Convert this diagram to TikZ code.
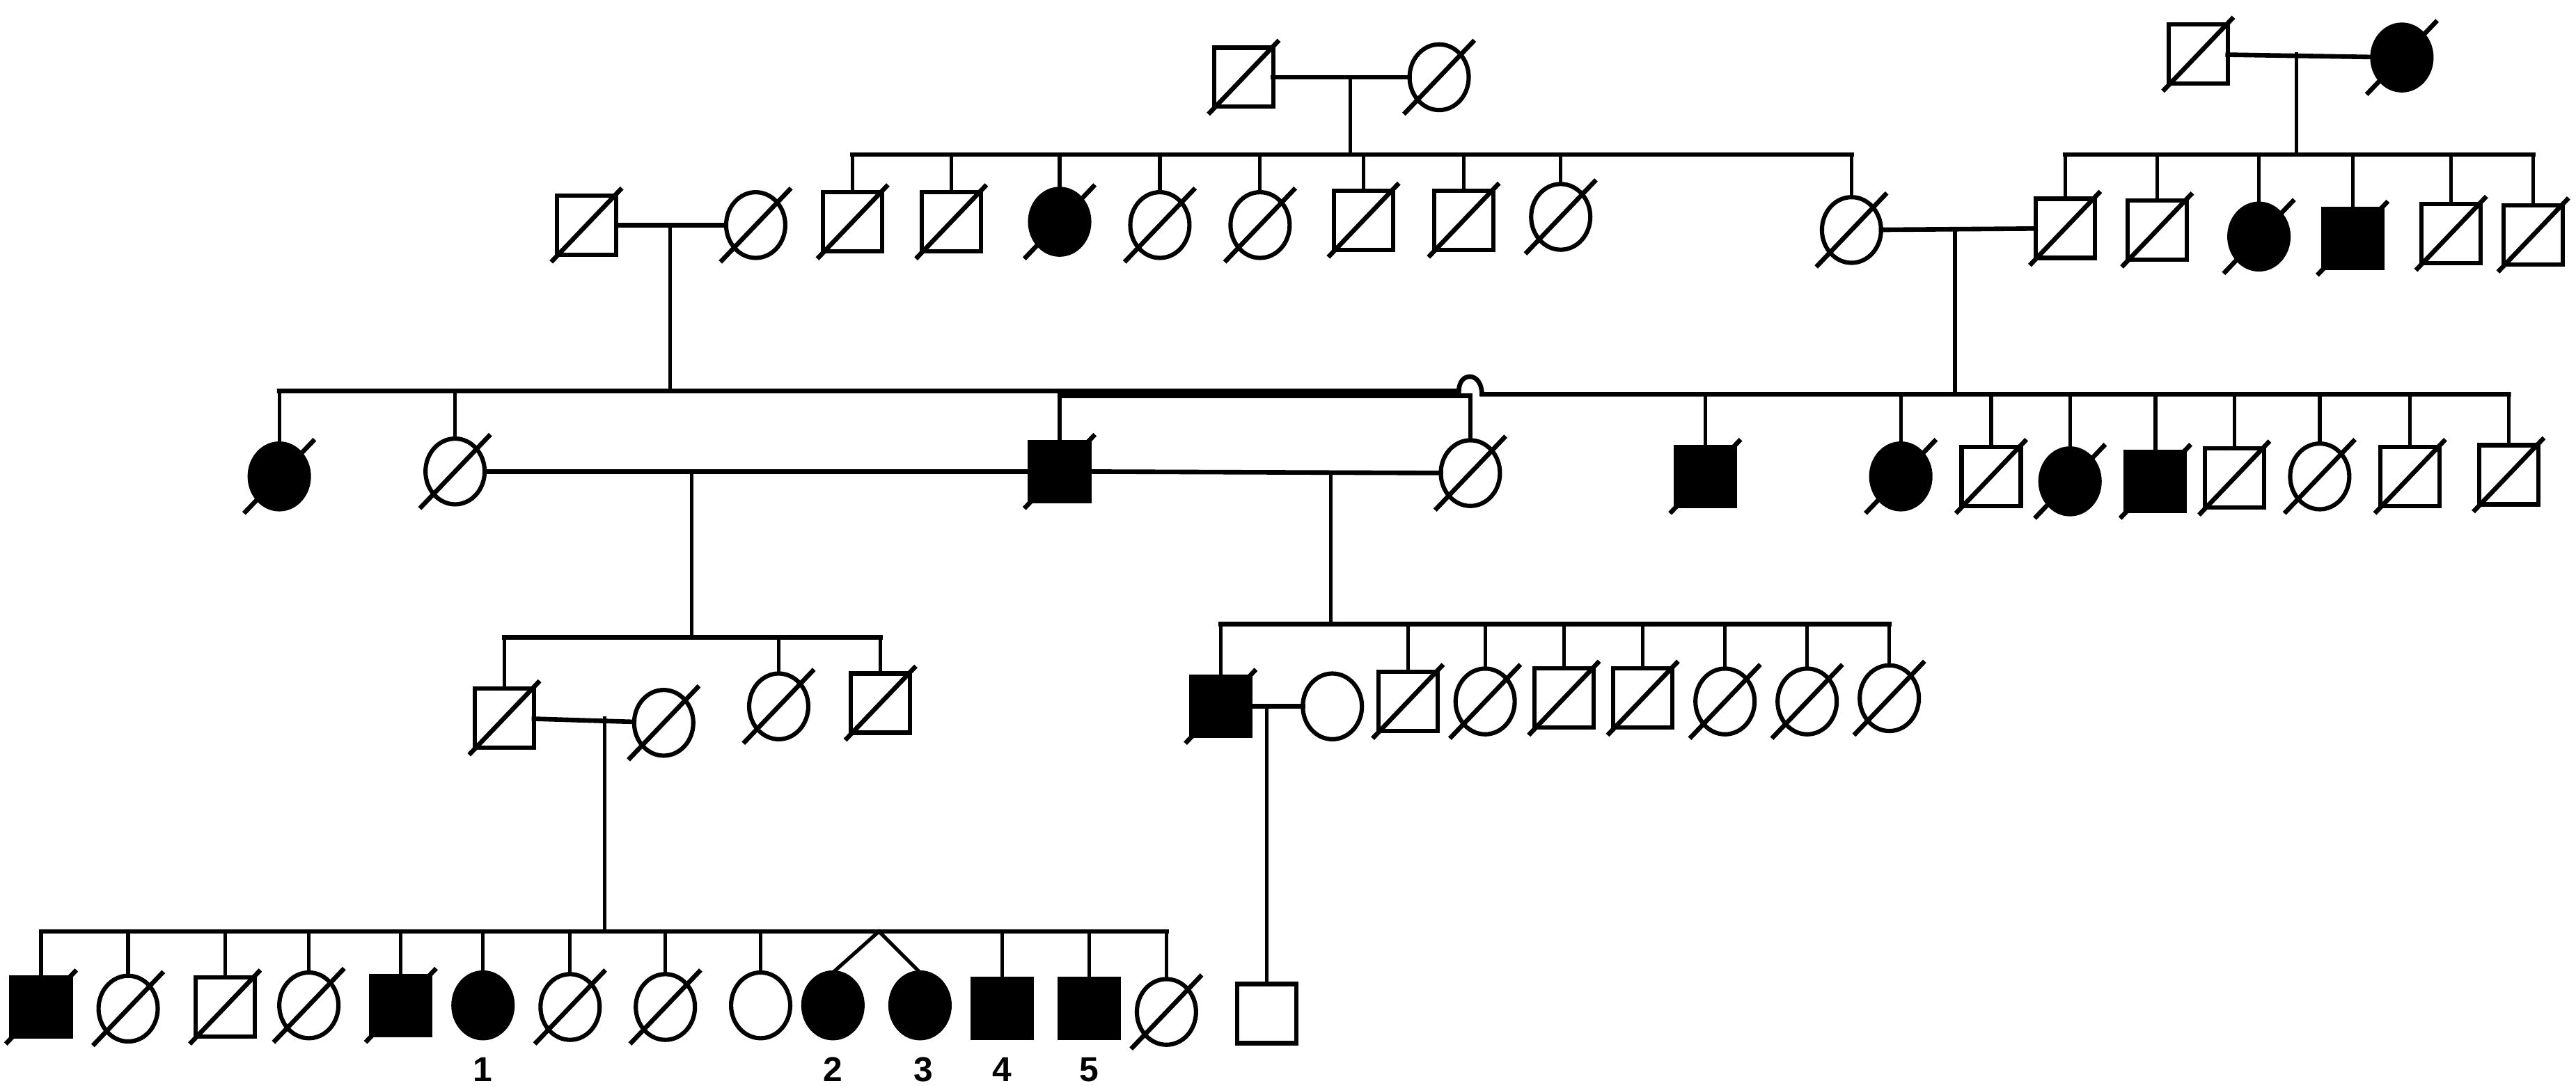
\documentclass[tikz,border=0pt]{standalone}
\usepackage{fontspec}
\setmainfont{Liberation Sans}
\usetikzlibrary{shapes.geometric}

\tikzset{
	person/.style={draw, line width=0.65mm, inner sep=0pt, outer sep=0pt},
	male/.style={person, rectangle, minimum size=9mm},
	female/.style={person, ellipse, minimum width=9mm, minimum height=10mm},
	maleaff/.style={male, fill=black},
	femaleaff/.style={female, fill=black},
	bar/.style={line width=0.7mm, line cap=rect},
	link/.style={line width=0.55mm, line cap=rect},
	slash/.style={line width=0.7mm},
	num/.style={font=\fontsize{15}{17}\selectfont\bfseries}
}

\begin{document}
\begin{tikzpicture}[x=0.25mm,y=-0.25mm]
	\useasboundingbox (0,0) rectangle (1568,661);
	
	% Draw generation I
	\foreach \n/\x/\y/\s in {i1/757/47/male, i2/876/47/female, i3/1338/33/male, i4/1462/35/femaleaff}
		\node[\s] (\n) at (\x,\y) {};
	
	% Draw generation II
	\foreach \n/\x/\y/\s in {ii1/357/137/male, ii2/460/137/female, ii3/519/135/male, ii4/579/135/male,
		ii5/645/135/femaleaff, ii6/706/137/female, ii7/767/137/female, ii8/830/134/male,
		ii9/891/134/male, ii10/950/132/female, ii11/1127/140/female, ii12/1257/139/male,
		ii13/1313/140/male, ii14/1375/144/femaleaff, ii15/1432/145/maleaff, ii16/1492/142/male,
		ii17/1542/143/male}
		\node[\s] (\n) at (\x,\y) {};
	
	% Draw generation III
	\foreach \n/\x/\y/\s in {iii1/170/290/femaleaff, iii2/277/287/female, iii3/645/287/maleaff,
		iii4/895/288/female, iii5/1038/290/maleaff, iii6/1157/290/femaleaff, iii7/1212/290/male,
		iii8/1260/293/femaleaff, iii9/1312/293/maleaff, iii10/1360/291/male, iii11/1412/290/female,
		iii12/1467/290/male, iii13/1527/289/male}
		\node[\s] (\n) at (\x,\y) {};
	
	% Draw generation IV
	\foreach \n/\x/\y/\s in {iv1/307/437/male, iv2/404/440/female, iv3/474/430/female, iv4/536/428/male,
		iv5/743/430/maleaff, iv6/811/430/female, iv7/857/427/male, iv8/904/427/female,
		iv9/952/425/male, iv10/1000/425/male, iv11/1050/427/female, iv12/1100/427/female,
		iv13/1150/425/female}
		\node[\s] (\n) at (\x,\y) {};
	
	% Draw generation V
	\foreach \n/\x/\y/\s in {v1/25/613/maleaff, v2/78/614/female, v3/137/613/male, v4/188/612/female,
		v5/244/612/maleaff, v6/294/612/femaleaff, v7/347/613/female, v8/405/613/female,
		v9/463/612/female, v10/507/612/femaleaff, v11/560/612/femaleaff, v12/610/614/maleaff,
		v13/663/614/maleaff, v14/710/616/female, v15/771/617/male}
		\node[\s] (\n) at (\x,\y) {};
	
	% Marriage lines
	\foreach \a/\b in {i1/i2, i3/i4, ii1/ii2, ii11/ii12, iii2/iii3, iii3/iii4, iv1/iv2, iv5/iv6}
		\draw[bar] (\a) -- (\b);
	
	% Sibship bars
	\coordinate (s2a) at (822,94);
	\coordinate (s2b) at (1398,94);
	\coordinate (s3a) at (408,238);
	\coordinate (s3b) at (1190,240);
	\coordinate (s3c) at (645,241);
	\coordinate (s4a) at (421,388);
	\coordinate (s4b) at (810,380);
	\coordinate (s5) at (368,567);
	\coordinate (twin) at (535,567);
	\coordinate (hopL) at (888,238);
	\coordinate (hopR) at (902,240);
	
	% Drops from the couples
	\draw[link] (s2a |- i1.east) -- (s2a);
	\draw[link] (s2b |- i3.east) -- (s2b);
	\draw[link] (s3a |- ii1.east) -- (s3a);
	\draw[link] (s3b |- ii11.east) -- (s3b);
	\draw[link] (s4a |- iii2.east) -- (s4a);
	\draw[link] (s4b |- iii4.west) -- (s4b);
	\draw[link] (s5 |- iv1.east) -- (s5);
	\draw[link] (v15.north |- iv5.east) -- (v15.north);
	
	% Horizontal bars
	\draw[bar] (ii3.north |- s2a) -- (ii11.north |- s2a);
	\draw[bar] (ii12.north |- s2b) -- (ii17.north |- s2b);
	\draw[bar] (iii1.north |- s3a) -- (hopL) .. controls (888,226) and (902,226) .. (hopR) -- (iii13.north |- s3b);
	\draw[bar] (iii3.north |- s3c) -- (iii4.north |- s3c);
	\draw[bar] (iv1.north |- s4a) -- (iv4.north |- s4a);
	\draw[bar] (iv5.north |- s4b) -- (iv13.north |- s4b);
	\draw[bar] (v1.north |- s5) -- (v14.north |- s5);
	
	% Children to their bars
	\foreach \c in {ii3,ii4,ii5,ii6,ii7,ii8,ii9,ii10,ii11}
		\draw[link] (\c.north) -- (\c.north |- s2a);
	\foreach \c in {ii12,ii13,ii14,ii15,ii16,ii17}
		\draw[link] (\c.north) -- (\c.north |- s2b);
	\foreach \c in {iii1,iii2}
		\draw[link] (\c.north) -- (\c.north |- s3a);
	\foreach \c in {iii3,iii4}
		\draw[link] (\c.north) -- (\c.north |- s3c);
	\foreach \c in {iii5,iii6,iii7,iii8,iii9,iii10,iii11,iii12,iii13}
		\draw[link] (\c.north) -- (\c.north |- s3b);
	\foreach \c in {iv1,iv3,iv4}
		\draw[link] (\c.north) -- (\c.north |- s4a);
	\foreach \c in {iv5,iv7,iv8,iv9,iv10,iv11,iv12,iv13}
		\draw[link] (\c.north) -- (\c.north |- s4b);
	\foreach \c in {v1,v2,v3,v4,v5,v6,v7,v8,v9,v12,v13,v14}
		\draw[link] (\c.north) -- (\c.north |- s5);
	
	% Twins
	\draw[link] (v10.north) -- (twin) -- (v11.north);
	
	% Deceased marks
	\foreach \n in {i1,i2,i3,i4,ii1,ii2,ii3,ii4,ii5,ii6,ii7,ii8,ii9,ii10,ii11,ii12,ii13,ii14,ii15,ii16,ii17,
		iii1,iii2,iii3,iii4,iii5,iii6,iii7,iii8,iii9,iii10,iii11,iii12,iii13,
		iv1,iv2,iv3,iv4,iv5,iv7,iv8,iv9,iv10,iv11,iv12,iv13,v1,v2,v3,v4,v5,v7,v8,v14}
		\draw[slash] (\n.center) ++(-21.5,22.5) -- ++(43,-45);
	
	% Numbers of the tested members
	\node[num] (lab1) at (294,651) {1};
	\node[num] (lab2) at (507,651) {2};
	\node[num] (lab3) at (562,651) {3};
	\node[num] (lab4) at (610,651) {4};
	\node[num] (lab5) at (663,651) {5};
	
\end{tikzpicture}
\end{document}
